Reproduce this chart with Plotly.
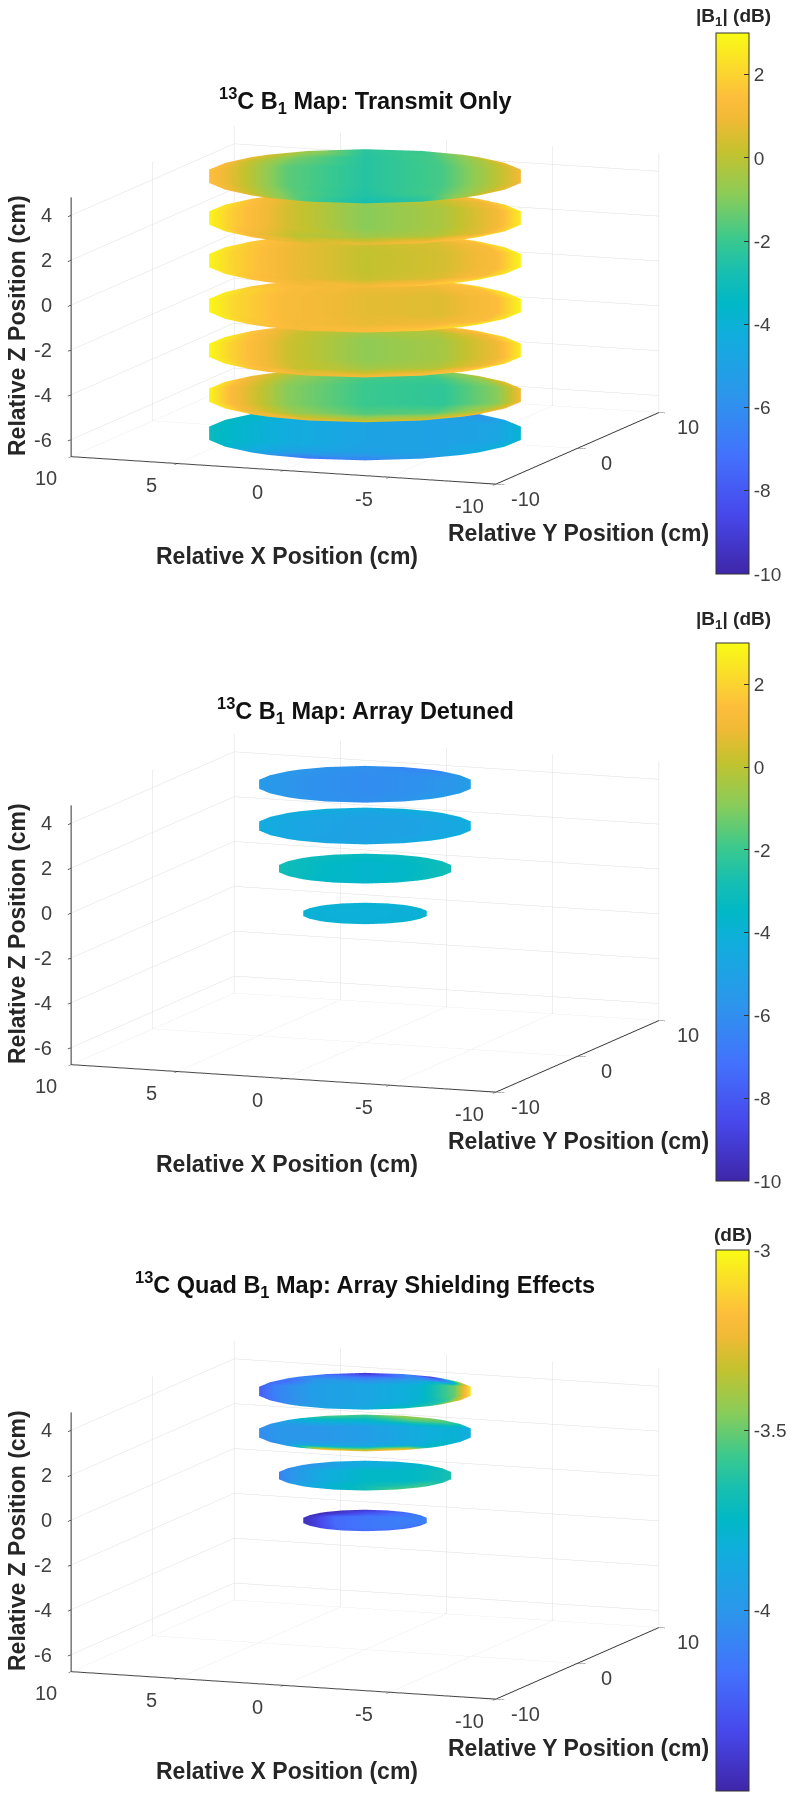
import math
import plotly.graph_objects as go

# ---------- values ----------
X_TICKS = [10, 5, 0, -5, -10]
Y_TICKS = [-10, 0, 10]
Z_TICKS = [-6, -4, -2, 0, 2, 4]
X_RANGE = [10, -10]
Y_RANGE = [-10, 10]
Z_RANGE = [-6.76, 4.8]

SLICE_Z_TX = [4.76, 2.9, 1.0, -1.0, -3.0, -5.0, -6.7]
SLICE_R_TX = [7.07, 7.07, 7.07, 7.07, 7.07, 7.07, 7.07]
SLICE_Z_ARRAY = [4.76, 2.9, 1.0, -1.0]
SLICE_R_ARRAY = [4.8, 4.8, 3.9, 2.8]

CB1_TICKS = [2, 0, -2, -4, -6, -8, -10]
CB3_TICKS = [-3, -3.5, -4, -4.5]

# rows run from the back of a slice to its front, columns from its left to its right
TX_1 = [[1.0, .5, -.5, -2.3, -2.0, -.5, .8], [1.2, .3, -1.2, -2.4, -1.8, -.3, .9], [1.5, .6, -1.5, -2.4, -1.8, 0, 1.0],
        [1.2, .3, -1.5, -2.5, -1.8, -.2, .8], [.8, 0, -1.8, -2.8, -2.4, -.5, .5]]
TX_2 = [[1.5, 1, .7, .8, 1, 1.3, 1.6], [2.4, 1.6, .3, -.6, 0, .9, 2], [2.8, 1.8, .4, -.9, -.3, 1, 2.6],
        [2.4, 1.2, 0, -.5, -.2, .8, 2], [1.6, .8, .5, .9, 1.3, 1.8, 2.4]]
TX_3 = [[1.8, 1.5, 1.2, 1, 1.2, 1.6, 2], [2.5, 1.8, .9, .3, .5, 1.3, 2.4], [2.8, 2, .9, .1, .4, 1.3, 2.8],
        [2.4, 1.6, .8, .2, .5, 1.3, 2.4], [1.6, 1.2, 1, 1.2, 1.7, 2.2, 2.6]]
TX_4 = [[1.6, 1.5, 1.3, 1.1, 1.3, 1.7, 2.2], [2.6, 2, 1.3, .9, .9, 1.5, 2.5], [2.9, 2.1, 1.2, .7, .6, 1.4, 2.8],
        [2.5, 1.8, 1.1, .8, .9, 1.4, 2.4], [1.7, 1.4, 1.1, 1.4, 1.8, 2.3, 2.7]]
TX_5 = [[1.6, 1.3, .9, .7, 1.0, 1.4, 1.9], [2.6, 1.7, .3, -.4, -.2, 1, 2.2], [2.9, 1.9, .3, -.8, -.4, .9, 2.6],
        [2.5, 1.6, .2, -.4, -.2, .9, 2.2], [1.7, 1.2, .9, 1.1, 1.5, 2, 2.6]]
TX_6 = [[.9, .6, .2, -.6, -1.5, -.8, .5], [2.2, 1.0, -.7, -1.8, -1.9, -.7, .8], [2.8, 1.2, -.9, -2.0, -2.2, -.9, 1.0],
        [2.3, 1.0, -.6, -1.6, -1.6, -.3, .9], [1.2, .9, .8, .4, .6, 1, 1.5]]
TX_7 = [[-3.5, -3.6, -4, -4.5, -5.5, -6.5, -5], [-3.3, -3.6, -4.2, -4.8, -5.2, -5.5, -4.8], [-3.2, -3.6, -4.3, -4.9, -5, -4.8, -3.8],
        [-3.6, -4.1, -4.9, -5.1, -5, -4.5, -3.8], [-4.5, -5.5, -7, -6.5, -5.5, -4.6, -4]]

DET_1 = [[-5.6, -5.7, -5.8, -5.9, -6.5, -6.7, -5.6], [-5.5, -5.6, -5.8, -6, -6.1, -6, -5.5], [-5.4, -5.6, -5.9, -6.1, -5.9, -5.6, -5.2],
         [-5.4, -5.6, -5.9, -6, -5.8, -5.5, -5.3], [-5.5, -5.6, -5.9, -6, -5.8, -5.4, -5.3]]
DET_2 = [[-4.2, -4.2, -4.1, -4.2, -4.0, -4.1, -4.2], [-4.3, -4.4, -4.6, -4.8, -4.6, -4.5, -4.2], [-4.3, -4.5, -4.8, -5.0, -4.9, -4.6, -4.2],
         [-4.3, -4.6, -4.9, -5, -4.8, -4.5, -4.2], [-4.4, -4.5, -4.6, -4.7, -4.5, -4.3, -4.1]]
DET_3 = [[-3.1, -3.1, -3.1, -3.2, -3.2, -3.2, -3.1], [-3.0, -3.1, -3.2, -3.4, -3.3, -3.2, -3.0], [-2.9, -3.1, -3.4, -3.7, -3.5, -3.1, -2.9],
         [-3.0, -3.2, -3.5, -3.7, -3.5, -3.1, -3.0], [-3.1, -3.3, -3.6, -3.6, -3.4, -3.2, -3.1]]
DET_4 = [[-3.9, -3.9, -3.9, -3.9, -3.9, -3.9, -3.9], [-3.9, -3.95, -4, -4, -4, -4, -3.9], [-3.9, -4, -4.1, -4.1, -4.05, -4, -3.9],
         [-3.9, -3.95, -4.05, -4.1, -4, -3.95, -3.9], [-3.9, -3.9, -4, -4, -3.9, -3.85, -3.85]]

QUAD_1 = [[-4.1, -4.1, -4.2, -4.45, -4.1, -4.45, -3.5], [-4.2, -4.2, -4.0, -4.1, -4.0, -4.15, -3.3], [-4.25, -4.1, -3.95, -3.9, -3.8, -3.5, -3.05],
          [-4.2, -4.05, -3.95, -3.9, -3.8, -3.6, -3.25], [-4.1, -3.95, -3.9, -3.85, -3.7, -3.6, -3.4]]
QUAD_2 = [[-3.9, -3.75, -3.55, -3.55, -3.4, -3.45, -3.6], [-4.0, -3.95, -3.8, -3.75, -3.55, -3.55, -3.65], [-4.05, -4.0, -4.0, -3.95, -3.85, -3.8, -3.85],
          [-4.05, -4.0, -3.9, -3.9, -3.85, -3.75, -3.8], [-3.9, -3.8, -3.1, -3.2, -3.1, -3.7, -3.8]]
QUAD_3 = [[-4.0, -4.0, -3.9, -3.85, -3.8, -3.75, -3.7], [-4.05, -4.0, -3.95, -3.85, -3.8, -3.75, -3.7], [-4.1, -4.0, -3.85, -3.75, -3.75, -3.7, -3.65],
          [-4.0, -3.9, -3.8, -3.7, -3.65, -3.6, -3.65], [-3.9, -3.85, -3.8, -3.7, -3.55, -3.55, -3.7]]
QUAD_4 = [[-4.4, -4.45, -4.45, -4.42, -4.3, -4.2, -4.15], [-4.45, -4.45, -4.4, -4.3, -4.2, -4.15, -4.1], [-4.45, -4.4, -4.2, -4.15, -4.12, -4.12, -4.1],
          [-4.4, -4.35, -4.2, -4.15, -4.12, -4.15, -4.2], [-4.35, -4.3, -4.2, -4.2, -4.2, -4.2, -4.2]]

PARULA = [[0.0, "#3e26a8"], [0.11, "#4748eb"], [0.22, "#4372fd"], [0.33, "#2c96eb"], [0.44, "#11adde"], [0.5, "#01b8c6"],
          [0.56, "#18bfb0"], [0.62, "#3bc98d"], [0.70, "#8acc59"], [0.78, "#c4c22e"], [0.84, "#f0ba36"], [0.88, "#fdbd3c"],
          [0.93, "#fbd72e"], [1.0, "#f9fb15"]]

# ---------- layout constants ----------
PAGE = 8  # the page body's own margin
W, H = 795 - PAGE, 1800 - PAGE
OFFSETS = [0, 608, 1215]
SCENE_HALF = 280
CENTER = (365, 305)
AZ, EL = math.radians(-69), math.radians(9.7)
EYE_R = 1.33
ZOOM = 1.625
INSET = 0.02  # keeps tick-label anchors just inside the axis ranges
U_GRID = [-1, -.85, -.5, 0, .5, .85, 1]
V_GRID = [1, .7, .35, -.35, -.7, -1]
ROW_OF_V = [0, 1, 2, 2, 3, 4]
TICK_COLOR = "#333333"
TEXT_COLOR = "#262626"
FONT = "Liberation Sans, Arial, sans-serif"


def px_x(p):
    return (p - PAGE) / W


def px_y(p):
    return 1 - (p - PAGE) / H


def slice_mesh(z, radius, values, caxis, scene):
    sin_a, cos_a = math.sin(-AZ), math.cos(AZ)
    xs, ys, zs, cs, ii, jj, kk = [], [], [], [], [], [], []
    nu, nv = len(U_GRID), len(V_GRID)
    for r, v in enumerate(V_GRID):
        for c, u in enumerate(U_GRID):
            a = u * math.sqrt(1 - v * v / 2) * radius
            b = v * math.sqrt(1 - u * u / 2) * radius
            # screen-right and depth directions in data axes
            xs.append(-sin_a * a + cos_a * b)
            ys.append(cos_a * a + sin_a * b)
            zs.append(z)
            cs.append(values[ROW_OF_V[r]][c])
    for r in range(nv - 1):
        for c in range(nu - 1):
            p = r * nu + c
            ii += [p, p]
            jj += [p + 1, p + nu + 1]
            kk += [p + nu + 1, p + nu]
    return go.Mesh3d(x=xs, y=ys, z=zs, i=ii, j=jj, k=kk, intensity=cs, intensitymode="vertex",
                     coloraxis=caxis, scene=scene, hoverinfo="skip", showscale=False, flatshading=False,
                     lighting=dict(ambient=1, diffuse=0, specular=0, roughness=1, fresnel=0))


def inside(t, lo=-10, hi=10):
    return min(max(t, lo + INSET), hi - INSET)


def tick_annotations():
    base = dict(showarrow=False, font=dict(family=FONT, size=20, color="#404040"))
    zfloor = Z_RANGE[0] + INSET
    yfront = Y_RANGE[0] + INSET
    ann = []
    for t in X_TICKS:
        ann.append(dict(x=inside(t), y=yfront, z=zfloor, text=str(t), xshift=-26, yshift=-22, **base))
    for t in Y_TICKS:
        ann.append(dict(x=-10 + INSET, y=inside(t), z=zfloor, text=str(t), xshift=30, yshift=-15, **base))
    for t in Z_TICKS:
        ann.append(dict(x=10 - INSET, y=yfront, z=t, text=str(t), xanchor="right", xshift=-18, yshift=0, **base))
    return ann


def paper_text(px, py, text, size, bold=True, color=TEXT_COLOR, **kw):
    t = f"<b>{text}</b>" if bold else text
    return dict(xref="paper", yref="paper", x=px_x(px), y=px_y(py), text=t, showarrow=False,
                xanchor="center", yanchor="middle", font=dict(family=FONT, size=size, color=color), **kw)


def scene_layout(off):
    cy = CENTER[1] + off
    ax = dict(showbackground=False, showline=True, linecolor=TICK_COLOR, linewidth=2, zeroline=False,
              showticklabels=False, showspikes=False, showgrid=True, gridcolor="#dedede", gridwidth=1,
              ticks="outside", ticklen=9, tickcolor=TICK_COLOR, tickwidth=1.5, title=dict(text=""))
    e = (math.cos(AZ) * math.cos(EL) * EYE_R, math.sin(AZ) * math.cos(EL) * EYE_R, math.sin(EL) * EYE_R)
    return dict(
        domain=dict(x=[px_x(CENTER[0] - 300), px_x(CENTER[0] + 300)],
                    y=[px_y(cy + SCENE_HALF), px_y(cy - SCENE_HALF)]),
        xaxis=dict(range=X_RANGE, tickvals=X_TICKS, **ax),
        yaxis=dict(range=Y_RANGE, tickvals=Y_TICKS, **ax),
        zaxis=dict(range=Z_RANGE, tickvals=Z_TICKS, **ax),
        aspectmode="manual",
        aspectratio=dict(x=ZOOM, y=ZOOM, z=ZOOM * (Z_RANGE[1] - Z_RANGE[0]) / 20),
        camera=dict(projection=dict(type="orthographic"), eye=dict(x=e[0], y=e[1], z=e[2]),
                    up=dict(x=0, y=0, z=1), center=dict(x=0, y=0, z=0)),
        annotations=tick_annotations(),
    )


def colorbar(top, bottom, ticks):
    return dict(x=px_x(716), xanchor="left", y=px_y((top + bottom) / 2), yanchor="middle", len=(bottom - top) / H,
                lenmode="fraction", thickness=33, thicknessmode="pixels", outlinecolor="#333333", outlinewidth=1,
                ticks="inside", ticklen=5, tickcolor="#333333", tickwidth=1, tickvals=ticks, ticktext=[str(t) for t in ticks],
                tickfont=dict(family=FONT, size=19, color="#404040"), ypad=0, xpad=0)


fig = go.Figure()
groups = [
    (TX_1, TX_2, TX_3, TX_4, TX_5, TX_6, TX_7),
    (DET_1, DET_2, DET_3, DET_4),
    (QUAD_1, QUAD_2, QUAD_3, QUAD_4),
]
zlist = [SLICE_Z_TX, SLICE_Z_ARRAY, SLICE_Z_ARRAY]
rlist = [SLICE_R_TX, SLICE_R_ARRAY, SLICE_R_ARRAY]
for i, grp in enumerate(groups):
    scene = "scene" if i == 0 else f"scene{i + 1}"
    cax = "coloraxis" if i == 0 else f"coloraxis{i + 1}"
    for z, r, vals in zip(zlist[i], rlist[i], grp):
        fig.add_trace(slice_mesh(z, r, vals, cax, scene))

TITLES = ["<sup>13</sup>C B<sub>1</sub> Map: Transmit Only", "<sup>13</sup>C B<sub>1</sub> Map: Array Detuned",
          "<sup>13</sup>C Quad B<sub>1</sub> Map: Array Shielding Effects"]
CB_TITLES = ["|B<sub>1</sub>| (dB)", "|B<sub>1</sub>| (dB)", "(dB)"]
TITLE_Y = [101, 710, 1284]
CB_TITLE_Y = [17, 620, 1234]

ann = []
for i, off in enumerate(OFFSETS):
    ann.append(paper_text(365, TITLE_Y[i], TITLES[i], 23.5, color="#111111"))
    ann.append(paper_text(287, 556 + off, "Relative X Position (cm)", 23))
    ann.append(paper_text(578, 533 + off, "Relative Y Position (cm)", 23))
    ann.append(paper_text(17, 326 + off, "Relative Z Position (cm)", 23, textangle=-90))
    ann.append(paper_text(733, CB_TITLE_Y[i], CB_TITLES[i], 19))

fig.update_layout(
    width=W, height=H, margin=dict(l=0, r=0, t=0, b=0), paper_bgcolor="white", showlegend=False,
    scene=scene_layout(OFFSETS[0]), scene2=scene_layout(OFFSETS[1]), scene3=scene_layout(OFFSETS[2]),
    coloraxis=dict(colorscale=PARULA, cmin=-10, cmax=3, colorbar=colorbar(33, 574, CB1_TICKS)),
    coloraxis2=dict(colorscale=PARULA, cmin=-10, cmax=3, colorbar=colorbar(643, 1181, CB1_TICKS)),
    coloraxis3=dict(colorscale=PARULA, cmin=-4.5, cmax=-3, colorbar=colorbar(1250, 1791, CB3_TICKS)),
    annotations=ann,
)
fig.write_html("out.html")
